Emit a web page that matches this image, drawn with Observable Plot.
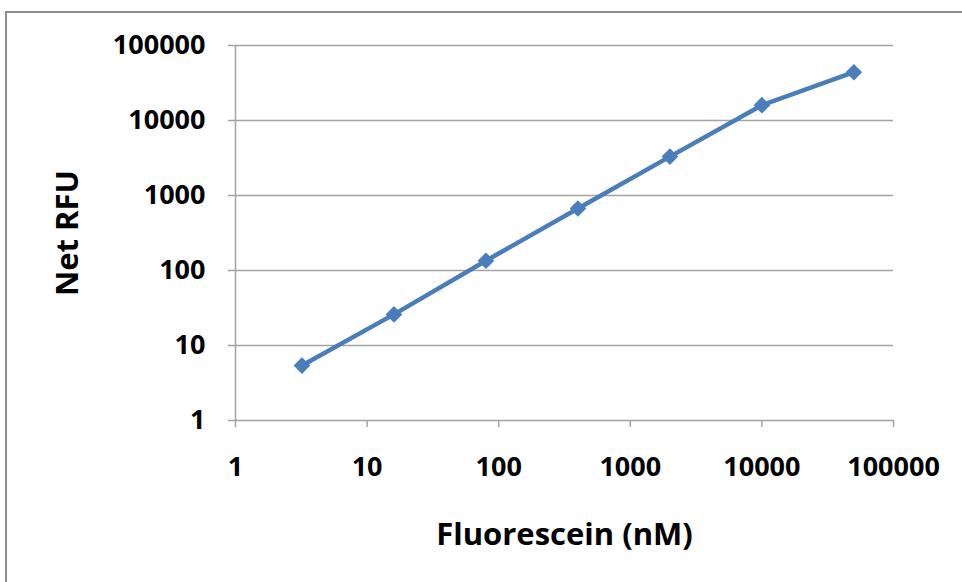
<!DOCTYPE html>
<html>
<head>
<meta charset="utf-8">
<script src="https://cdn.jsdelivr.net/npm/d3@7"></script>
<script src="https://cdn.jsdelivr.net/npm/@observablehq/plot@0.6"></script>
<style>
  body { margin: 0; background: #fff; }
  #wrap { position: relative; width: 962px; height: 582px; overflow: hidden; }
  #frame { position: absolute; left: 5px; top: 11px; width: 1000px; height: 1000px; border-left: 2px solid #8c8c8c; border-top: 2px solid #8c8c8c; }
  #chart { position: absolute; left: 0; top: 0; }
</style>
</head>
<body>
<div id="wrap"><div id="frame"></div><div id="chart"></div></div>
<script>
const concentration = [3.2, 16, 80, 400, 2000, 10000, 50000];
const netRFU = [5.4, 26, 135, 670, 3300, 16000, 44000];
const tickValues = [1, 10, 100, 1000, 10000, 100000];
const xLabel = "Fluorescein (nM)";
const yLabel = "Net RFU";

const data = concentration.map((c, i) => ({c, v: netRFU[i]}));
const font = "'Open Sans', 'Liberation Sans', sans-serif";
const grid = "#a3a3a3";
const blue = "#4a7ebb";

const chart = Plot.plot({
  width: 962,
  height: 582,
  marginLeft: 235,
  marginRight: 69,
  marginTop: 45,
  marginBottom: 162,
  style: {fontFamily: font, background: "transparent", overflow: "visible"},
  x: {type: "log", domain: [1, 100000]},
  y: {type: "log", domain: [1, 100000]},
  marks: [
    Plot.ruleY(tickValues, {stroke: grid, strokeWidth: 1.5}),
    Plot.ruleX([1], {stroke: grid, strokeWidth: 1.5}),
    Plot.axisY({ticks: tickValues, tickFormat: d => String(d), tickSize: 7, tickPadding: 23,
      fontSize: 27, fontWeight: "bold", fill: "black", stroke: grid, strokeWidth: 1.5, strokeOpacity: 1, label: null}),
    Plot.axisX({ticks: tickValues, tickFormat: d => String(d), tickSize: 7, tickPadding: 29,
      fontSize: 27, fontWeight: "bold", fill: "black", stroke: grid, strokeWidth: 1.5, strokeOpacity: 1, label: null}),
    Plot.line(data, {x: "c", y: "v", stroke: blue, strokeWidth: 4.5}),
    Plot.dot(data, {x: "c", y: "v", symbol: "diamond2", r: 7.5, fill: blue, stroke: "none"}),
    Plot.text([yLabel], {frameAnchor: "left", dx: -167, rotate: -90, textAnchor: "middle", lineAnchor: "middle", fontSize: 31, fontWeight: "bold", fill: "black"}),
    Plot.text([xLabel], {frameAnchor: "bottom", dy: 115, textAnchor: "middle", lineAnchor: "middle", fontSize: 31, fontWeight: "bold", fill: "black"})
  ]
});
document.getElementById("chart").appendChild(chart);
</script>
</body>
</html>
